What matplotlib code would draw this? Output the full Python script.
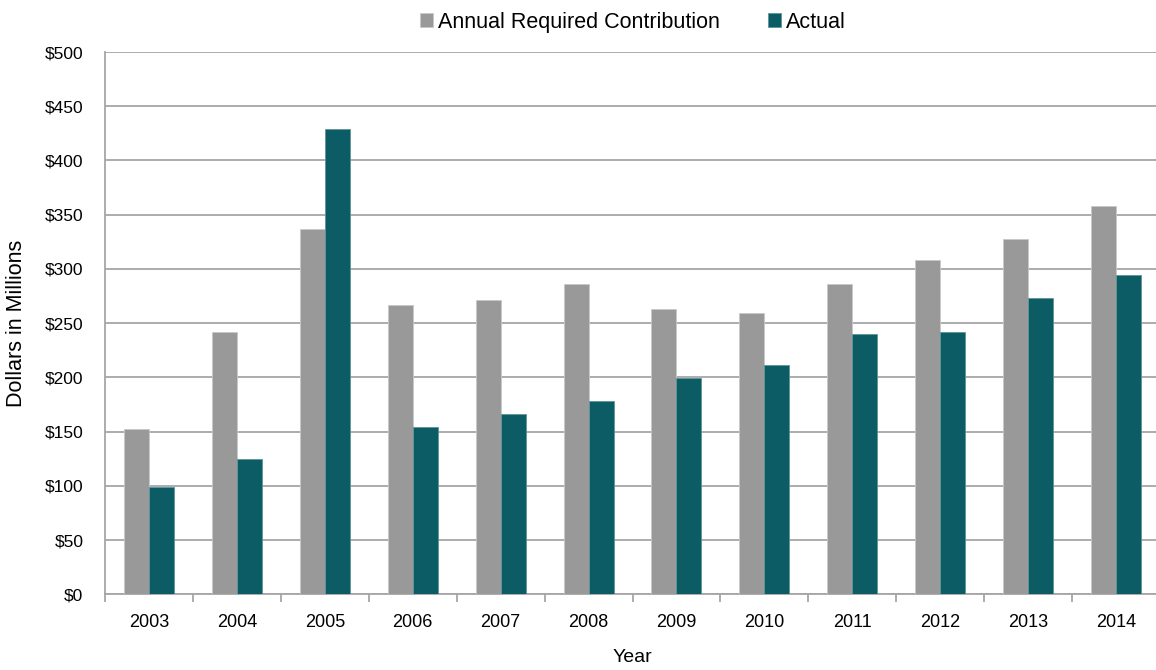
import numpy as np
import matplotlib
matplotlib.use("Agg")
import matplotlib.pyplot as plt
from matplotlib.ticker import FixedLocator, FuncFormatter

plt.rcParams['font.family'] = ['Liberation Sans', 'DejaVu Sans']

years = ['2003', '2004', '2005', '2006', '2007', '2008',
         '2009', '2010', '2011', '2012', '2013', '2014']
required = [152, 242, 337, 267, 271, 286, 263, 259, 286, 308, 328, 358]
actual = [99, 125, 429, 154, 166, 178, 199, 211, 240, 242, 273, 294]

gray = '#999999'
teal = '#0B5C65'
grid_col = '#A6A6A6'

fig = plt.figure(figsize=(11.56, 6.70), dpi=100)
ax = fig.add_axes([105 / 1156, 75.7 / 670, 1055 / 1156, 542.3 / 670])

x = np.arange(len(years))
w = 0.284
ax.bar(x - w / 2, required, w, color=gray, edgecolor='#C8C8C8', linewidth=0.6,
       label='Annual Required Contribution', zorder=3)
ax.bar(x + w / 2, actual, w, color=teal, edgecolor='#5F9499', linewidth=0.6,
       label='Actual', zorder=3)

ax.set_xlim(-0.5, len(years) - 0.5)
ax.set_ylim(0, 500)
ax.set_yticks(np.arange(0, 501, 50))
ax.yaxis.set_major_formatter(FuncFormatter(lambda v, p: '${:d}'.format(int(v))))
ax.yaxis.grid(True, color=grid_col, linewidth=1.3, zorder=0)
ax.tick_params(axis='y', length=0, pad=15.5, labelsize=12.5, colors='black')

ax.set_xticks(x)
ax.set_xticklabels(years)
ax.tick_params(axis='x', which='major', length=0, pad=14, labelsize=13)
ax.xaxis.set_minor_locator(FixedLocator(np.arange(-0.5, len(years), 1)))
ax.tick_params(axis='x', which='minor', length=6, color=grid_col, width=1.3)

for s in ['top', 'right']:
    ax.spines[s].set_visible(False)
for s in ['left', 'bottom']:
    ax.spines[s].set_color(grid_col)
    ax.spines[s].set_linewidth(1.3)

ax.set_ylabel('Dollars in Millions', fontsize=15.5)
ax.yaxis.set_label_coords(-0.074, 0.5)
ax.set_xlabel('Year', fontsize=14)
ax.xaxis.set_label_coords(0.5, -0.101)

fig.legend(loc='center', bbox_to_anchor=(0.5476, 0.967), ncol=2, frameon=False,
           fontsize=15.5, handlelength=0.6, handleheight=0.6, handletextpad=0.25,
           columnspacing=2.2)

fig.savefig('out.png', dpi=100)
